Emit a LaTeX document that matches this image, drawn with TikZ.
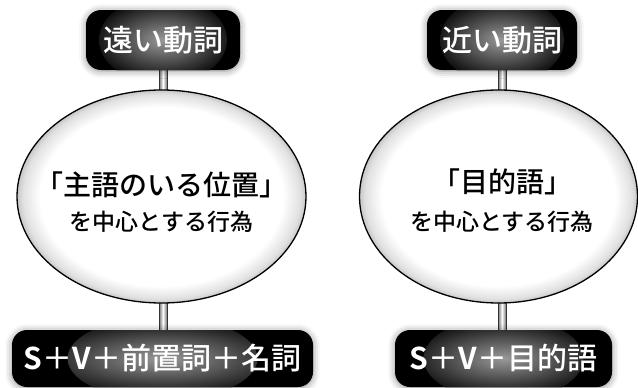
\documentclass[tikz,border=0pt]{standalone}
\usepackage{fontspec}
\setmainfont{Noto Sans CJK JP}[BoldFont={Noto Sans CJK JP Bold}]
\newfontfamily\medfont{Noto Sans CJK JP Medium}
\newfontfamily\boldfont{Noto Sans CJK JP Bold}
\usetikzlibrary{shadows.blur,backgrounds,calc,shapes.geometric}
\pgfdeclareradialshading{ellshade}{\pgfpoint{0bp}{0bp}}{color(0bp)=(white); color(21bp)=(white); color(24bp)=(black!12); color(25bp)=(black!22); color(50bp)=(white)}
\tikzset{
  darkbox/.style={rounded corners=15pt, fill=black, inner sep=0pt,
    blur shadow={shadow xshift=0pt, shadow yshift=-1pt, shadow blur radius=7pt, shadow opacity=45},
    text=white, font=\medfont\fontsize{30}{36}\selectfont},
  glow/.style 2 args={path picture={\fill[inner color=black!40, outer color=black]
      (path picture bounding box.center) ellipse [x radius=#1, y radius=#2];}},
  bubble/.style={ellipse, draw=black, line width=1.3pt, shading=ellshade, inner sep=0pt},
  bigline/.style={font=\medfont\fontsize{28}{32}\selectfont},
  smallline/.style={font=\medfont\fontsize{23}{28}\selectfont},
  stem/.style={draw=black!80, line width=0.5pt, left color=black!55, right color=black!55, middle color=white}
}
\newcommand{\lat}[1]{{\boldfont #1}}
\begin{document}
\begin{tikzpicture}[x=1pt,y=-1pt]
\useasboundingbox (0,0) rectangle (638,388);
% top boxes
\node[darkbox, glow={64}{44}, minimum width=154pt, minimum height=60pt] (t1) at (163,40) {遠い動詞};
\node[darkbox, glow={62}{44}, minimum width=150pt, minimum height=60pt] (t2) at (502,40) {近い動詞};
% ellipses
\node[bubble, minimum width=289pt, minimum height=213pt] (e1) at (161.5,196.5) {};
\node[bubble, minimum width=278pt, minimum height=213pt] (e2) at (498.5,196.5) {};
% ellipse texts
\node[bigline, inner sep=0pt] (a1) at (161.5,185) {「主語のいる位置」};
\node[smallline, inner sep=0pt] (b1) at (161.5,222) {を中心とする行為};
\node[bigline, inner sep=0pt] (a2) at (502,182) {「目的語」};
\node[smallline, inner sep=0pt] (b2) at (502,222) {を中心とする行為};
% bottom boxes
\node[darkbox, glow={95}{42}, minimum width=301pt, minimum height=57pt] (s1) at (162.5,358.5) {\lat{S}＋\lat{V}＋前置詞＋名詞};
\node[darkbox, glow={80}{42}, minimum width=217pt, minimum height=57pt] (s2) at (503.5,358.5) {\lat{S}＋\lat{V}＋目的語};
% stems
\begin{pgfonlayer}{background}
\draw[stem] ($(t1.south)+(-4,-2)$) rectangle ($(t1.south |- e1.north)+(4,3)$);
\draw[stem] ($(t1.south |- e1.south)+(-4,-3)$) rectangle ($(s1.north -| t1.south)+(4,2)$);
\draw[stem] ($(t2.south)+(-4,-2)$) rectangle ($(t2.south |- e2.north)+(4,3)$);
\draw[stem] ($(t2.south |- e2.south)+(-4,-3)$) rectangle ($(s2.north -| t2.south)+(4,2)$);
\end{pgfonlayer}
\end{tikzpicture}
\end{document}
